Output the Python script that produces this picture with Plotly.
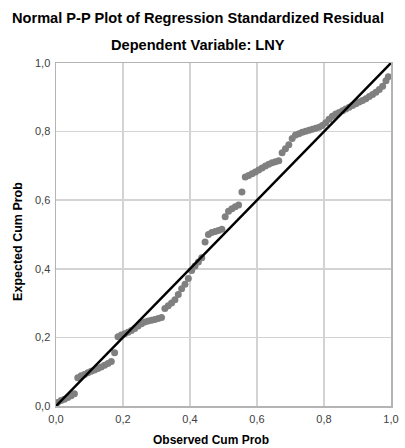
import plotly.graph_objects as go

observed_cum_prob = [
    0.005, 0.015, 0.025, 0.035, 0.045, 0.055, 0.065, 0.075, 0.085, 0.095,
    0.105, 0.115, 0.125, 0.135, 0.145, 0.155, 0.165, 0.175, 0.185, 0.195,
    0.205, 0.215, 0.225, 0.235, 0.245, 0.255, 0.265, 0.275, 0.285, 0.295,
    0.305, 0.315, 0.325, 0.335, 0.345, 0.355, 0.365, 0.375, 0.385, 0.395,
    0.405, 0.415, 0.425, 0.435, 0.445, 0.455, 0.465, 0.475, 0.485, 0.495,
    0.505, 0.515, 0.525, 0.535, 0.545, 0.555, 0.565, 0.575, 0.585, 0.595,
    0.605, 0.615, 0.625, 0.635, 0.645, 0.655, 0.665, 0.675, 0.685, 0.695,
    0.705, 0.715, 0.725, 0.735, 0.745, 0.755, 0.765, 0.775, 0.785, 0.795,
    0.805, 0.815, 0.825, 0.835, 0.845, 0.855, 0.865, 0.875, 0.885, 0.895,
    0.905, 0.915, 0.925, 0.935, 0.945, 0.955, 0.965, 0.975, 0.985, 0.992,
]
expected_cum_prob = [
    0.010, 0.016, 0.020, 0.025, 0.030, 0.036, 0.082, 0.088, 0.092, 0.097,
    0.101, 0.105, 0.109, 0.114, 0.119, 0.124, 0.130, 0.155, 0.202, 0.207,
    0.211, 0.215, 0.220, 0.226, 0.233, 0.240, 0.245, 0.248, 0.250, 0.252,
    0.255, 0.258, 0.284, 0.292, 0.300, 0.310, 0.325, 0.342, 0.355, 0.372,
    0.395, 0.408, 0.420, 0.432, 0.478, 0.500, 0.506, 0.509, 0.512, 0.515,
    0.552, 0.568, 0.575, 0.581, 0.586, 0.624, 0.668, 0.672, 0.677, 0.682,
    0.688, 0.694, 0.700, 0.705, 0.709, 0.712, 0.715, 0.738, 0.750, 0.762,
    0.780, 0.790, 0.794, 0.798, 0.801, 0.804, 0.807, 0.810, 0.813, 0.818,
    0.826, 0.836, 0.845, 0.851, 0.856, 0.861, 0.866, 0.871, 0.876, 0.881,
    0.886, 0.891, 0.896, 0.902, 0.908, 0.915, 0.923, 0.932, 0.948, 0.960,
]
ref_line = [0.0, 1.0]
tick_vals = [0.0, 0.2, 0.4, 0.6, 0.8, 1.0]
tick_text = ["0,0", "0,2", "0,4", "0,6", "0,8", "1,0"]

FONT = "Liberation Sans, Arial, sans-serif"

fig = go.Figure()
fig.add_trace(go.Scatter(
    x=observed_cum_prob, y=expected_cum_prob, mode="markers",
    marker=dict(color="#808080", size=7, line=dict(width=0)),
    showlegend=False, hoverinfo="skip",
))
fig.add_trace(go.Scatter(
    x=ref_line, y=ref_line, mode="lines",
    line=dict(color="#000000", width=2.5),
    showlegend=False, hoverinfo="skip",
))

axis_common = dict(
    range=[0, 1], tickvals=tick_vals, ticktext=tick_text,
    showgrid=True, gridcolor="#d3d3d3", gridwidth=1.5,
    showline=True, linecolor="#b4b4b4", linewidth=1.5, mirror=True,
    zeroline=False, ticks="", tickfont=dict(family=FONT, size=11, color="#404040"),
)

fig.update_layout(
    width=405, height=448,
    margin=dict(l=56, r=6, t=63, b=42),
    paper_bgcolor="white", plot_bgcolor="white",
    xaxis=dict(**axis_common, ticklabelstandoff=2),
    yaxis=dict(**axis_common, ticklabelstandoff=2),
    showlegend=False,
    annotations=[
        dict(text="<b>Normal P-P Plot of Regression Standardized Residual</b>",
             xref="paper", yref="paper", x=(201 - 56) / 343, y=(406 - 18) / 343,
             xanchor="center", yanchor="middle", showarrow=False,
             font=dict(family=FONT, size=14.6, color="#000000")),
        dict(text="<b>Dependent Variable: LNY</b>",
             xref="paper", yref="paper", x=(201 - 56) / 343, y=(406 - 45) / 343,
             xanchor="center", yanchor="middle", showarrow=False,
             font=dict(family=FONT, size=14.6, color="#000000")),
        dict(text="<b>Observed Cum Prob</b>",
             xref="paper", yref="paper", x=(215 - 56) / 343, y=(406 - 440) / 343,
             xanchor="center", yanchor="middle", showarrow=False,
             font=dict(family=FONT, size=12, color="#000000")),
        dict(text="<b>Expected Cum Prob</b>", textangle=-90,
             xref="paper", yref="paper", x=(17 - 56) / 343, y=(406 - 241) / 343,
             xanchor="center", yanchor="middle", showarrow=False,
             font=dict(family=FONT, size=12.5, color="#000000")),
    ],
)

fig.write_html(
    "out.html",
    config={"displayModeBar": False, "staticPlot": True},
    post_script="document.body.style.margin='0';document.body.style.padding='0';document.body.style.overflow='hidden';",
)
